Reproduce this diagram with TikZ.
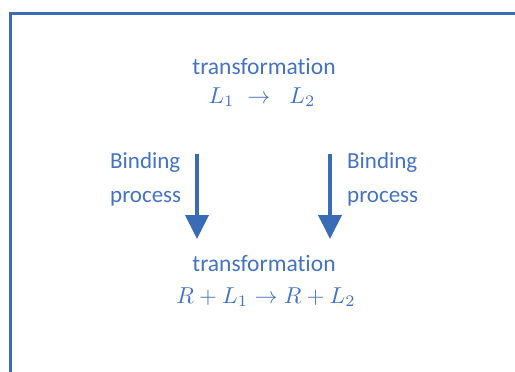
\documentclass[tikz,border=0pt]{standalone}
\usepackage{graphicx}
\usepackage{fontspec}
\setmainfont{Carlito}[Ligatures=NoCommon]
\usetikzlibrary{arrows.meta}
\definecolor{txtblue}{HTML}{4472C4}
\definecolor{lineblue}{HTML}{3A6BB6}
\newcommand{\bigmath}[1]{\scalebox{2.3}{$#1$}}
\begin{document}
\begin{tikzpicture}[x=1pt,y=-1pt,
  lbl/.style={text=txtblue,font=\fontsize{23.5}{27}\selectfont,inner sep=0pt},
  mth/.style={text=txtblue,inner sep=0pt},
  side/.style={text=txtblue,font=\fontsize{23}{34}\selectfont,inner sep=0pt,align=left,anchor=west},
  bigarrow/.style={draw=lineblue,line width=4pt,-{Triangle[width=23pt,length=24pt]}}]
\useasboundingbox (0,0) rectangle (515,372);
\draw[lineblue,line width=3pt] (10,373) -- (10,13) -- (516,13);
\node[lbl] (t1) at (264,67) {transformation};
\node[mth] (m1) at (262,97) {\bigmath{L_1\;\rightarrow\;\;L_2}};
\node[side] (b1) at (110,179) {Binding\\process};
\node[side] (b2) at (347,179) {Binding\\process};
\coordinate (a1s) at (197,154);
\coordinate (a1e) at (197,239);
\coordinate (a2s) at (330,154);
\coordinate (a2e) at (330,239);
\draw[bigarrow] (a1s) -- (a1e);
\draw[bigarrow] (a2s) -- (a2e);
\node[lbl] (t2) at (264,264) {transformation};
\node[mth] (m2) at (266,297) {\bigmath{R+L_1\rightarrow R+L_2}};
\end{tikzpicture}
\end{document}
